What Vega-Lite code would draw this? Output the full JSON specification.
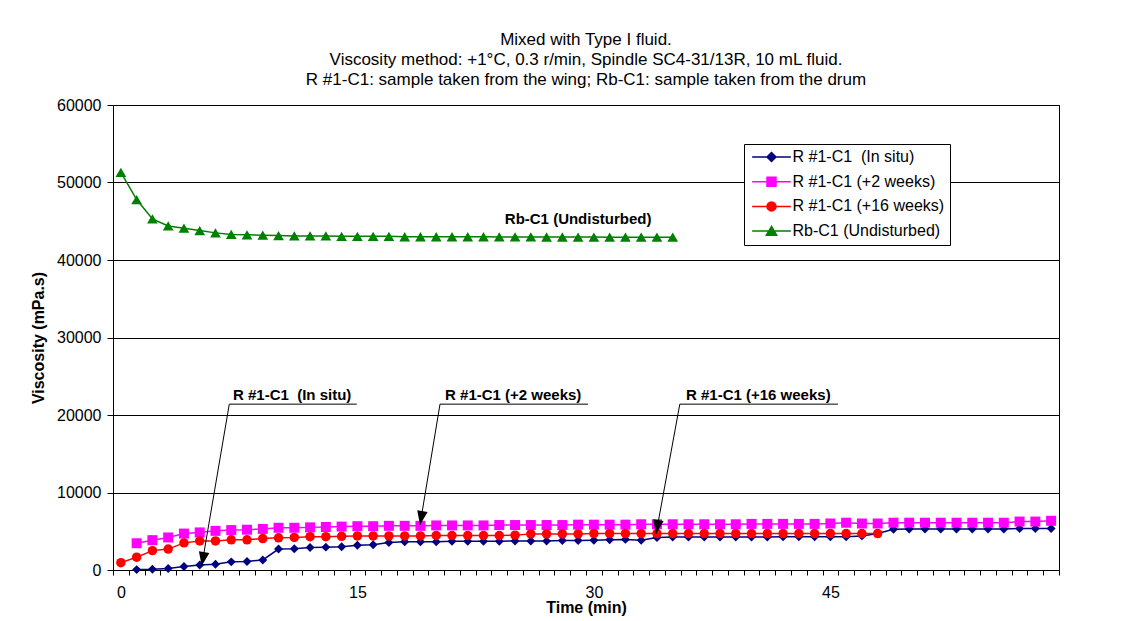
{
  "$schema": "https://vega.github.io/schema/vega-lite/v6.json",
  "width": 946,
  "height": 465,
  "autosize": {"type": "none"},
  "padding": {"left": 113, "top": 105, "right": 77, "bottom": 51},
  "background": "white",
  "title": {
    "text": ["Mixed with Type I fluid.", "Viscosity method: +1°C, 0.3 r/min, Spindle SC4-31/13R, 10 mL fluid.", "R #1-C1: sample taken from the wing; Rb-C1: sample taken from the drum"],
    "fontSize": 17, "fontWeight": "normal", "lineHeight": 20, "frame": "group", "anchor": "middle", "offset": 8, "color": "black"
  },
  "config": {
    "font": "Liberation Sans",
    "view": {"stroke": "black", "strokeWidth": 1}
  },
  "datasets": {
    "series": [
      {"s": "R #1-C1\u00a0 (In situ)", "t": 1, "v": 50}, {"s": "R #1-C1\u00a0 (In situ)", "t": 2, "v": 100}, {"s": "R #1-C1\u00a0 (In situ)", "t": 3, "v": 200}, {"s": "R #1-C1\u00a0 (In situ)", "t": 4, "v": 450}, {"s": "R #1-C1\u00a0 (In situ)", "t": 5, "v": 650}, {"s": "R #1-C1\u00a0 (In situ)", "t": 6, "v": 750}, {"s": "R #1-C1\u00a0 (In situ)", "t": 7, "v": 1050}, {"s": "R #1-C1\u00a0 (In situ)", "t": 8, "v": 1100}, {"s": "R #1-C1\u00a0 (In situ)", "t": 9, "v": 1300}, {"s": "R #1-C1\u00a0 (In situ)", "t": 10, "v": 2700},
      {"s": "R #1-C1\u00a0 (In situ)", "t": 11, "v": 2750}, {"s": "R #1-C1\u00a0 (In situ)", "t": 12, "v": 2900}, {"s": "R #1-C1\u00a0 (In situ)", "t": 13, "v": 2950}, {"s": "R #1-C1\u00a0 (In situ)", "t": 14, "v": 3000}, {"s": "R #1-C1\u00a0 (In situ)", "t": 15, "v": 3200}, {"s": "R #1-C1\u00a0 (In situ)", "t": 16, "v": 3250}, {"s": "R #1-C1\u00a0 (In situ)", "t": 17, "v": 3550}, {"s": "R #1-C1\u00a0 (In situ)", "t": 18, "v": 3650}, {"s": "R #1-C1\u00a0 (In situ)", "t": 19, "v": 3650}, {"s": "R #1-C1\u00a0 (In situ)", "t": 20, "v": 3650},
      {"s": "R #1-C1\u00a0 (In situ)", "t": 21, "v": 3700}, {"s": "R #1-C1\u00a0 (In situ)", "t": 22, "v": 3700}, {"s": "R #1-C1\u00a0 (In situ)", "t": 23, "v": 3700}, {"s": "R #1-C1\u00a0 (In situ)", "t": 24, "v": 3700}, {"s": "R #1-C1\u00a0 (In situ)", "t": 25, "v": 3750}, {"s": "R #1-C1\u00a0 (In situ)", "t": 26, "v": 3750}, {"s": "R #1-C1\u00a0 (In situ)", "t": 27, "v": 3750}, {"s": "R #1-C1\u00a0 (In situ)", "t": 28, "v": 3800}, {"s": "R #1-C1\u00a0 (In situ)", "t": 29, "v": 3800}, {"s": "R #1-C1\u00a0 (In situ)", "t": 30, "v": 3850},
      {"s": "R #1-C1\u00a0 (In situ)", "t": 31, "v": 3900}, {"s": "R #1-C1\u00a0 (In situ)", "t": 32, "v": 3950}, {"s": "R #1-C1\u00a0 (In situ)", "t": 33, "v": 3850}, {"s": "R #1-C1\u00a0 (In situ)", "t": 34, "v": 4200}, {"s": "R #1-C1\u00a0 (In situ)", "t": 35, "v": 4250}, {"s": "R #1-C1\u00a0 (In situ)", "t": 36, "v": 4250}, {"s": "R #1-C1\u00a0 (In situ)", "t": 37, "v": 4250}, {"s": "R #1-C1\u00a0 (In situ)", "t": 38, "v": 4250}, {"s": "R #1-C1\u00a0 (In situ)", "t": 39, "v": 4250}, {"s": "R #1-C1\u00a0 (In situ)", "t": 40, "v": 4250},
      {"s": "R #1-C1\u00a0 (In situ)", "t": 41, "v": 4250}, {"s": "R #1-C1\u00a0 (In situ)", "t": 42, "v": 4300}, {"s": "R #1-C1\u00a0 (In situ)", "t": 43, "v": 4300}, {"s": "R #1-C1\u00a0 (In situ)", "t": 44, "v": 4300}, {"s": "R #1-C1\u00a0 (In situ)", "t": 45, "v": 4300}, {"s": "R #1-C1\u00a0 (In situ)", "t": 46, "v": 4300}, {"s": "R #1-C1\u00a0 (In situ)", "t": 47, "v": 4400}, {"s": "R #1-C1\u00a0 (In situ)", "t": 48, "v": 4700}, {"s": "R #1-C1\u00a0 (In situ)", "t": 49, "v": 5250}, {"s": "R #1-C1\u00a0 (In situ)", "t": 50, "v": 5300},
      {"s": "R #1-C1\u00a0 (In situ)", "t": 51, "v": 5300}, {"s": "R #1-C1\u00a0 (In situ)", "t": 52, "v": 5300}, {"s": "R #1-C1\u00a0 (In situ)", "t": 53, "v": 5300}, {"s": "R #1-C1\u00a0 (In situ)", "t": 54, "v": 5300}, {"s": "R #1-C1\u00a0 (In situ)", "t": 55, "v": 5300}, {"s": "R #1-C1\u00a0 (In situ)", "t": 56, "v": 5300}, {"s": "R #1-C1\u00a0 (In situ)", "t": 57, "v": 5350}, {"s": "R #1-C1\u00a0 (In situ)", "t": 58, "v": 5350}, {"s": "R #1-C1\u00a0 (In situ)", "t": 59, "v": 5350},

      {"s": "R #1-C1 (+2 weeks)", "t": 1, "v": 3450}, {"s": "R #1-C1 (+2 weeks)", "t": 2, "v": 3850}, {"s": "R #1-C1 (+2 weeks)", "t": 3, "v": 4200}, {"s": "R #1-C1 (+2 weeks)", "t": 4, "v": 4700}, {"s": "R #1-C1 (+2 weeks)", "t": 5, "v": 4850}, {"s": "R #1-C1 (+2 weeks)", "t": 6, "v": 5050}, {"s": "R #1-C1 (+2 weeks)", "t": 7, "v": 5150}, {"s": "R #1-C1 (+2 weeks)", "t": 8, "v": 5200}, {"s": "R #1-C1 (+2 weeks)", "t": 9, "v": 5300}, {"s": "R #1-C1 (+2 weeks)", "t": 10, "v": 5450},
      {"s": "R #1-C1 (+2 weeks)", "t": 11, "v": 5450}, {"s": "R #1-C1 (+2 weeks)", "t": 12, "v": 5500}, {"s": "R #1-C1 (+2 weeks)", "t": 13, "v": 5550}, {"s": "R #1-C1 (+2 weeks)", "t": 14, "v": 5600}, {"s": "R #1-C1 (+2 weeks)", "t": 15, "v": 5650}, {"s": "R #1-C1 (+2 weeks)", "t": 16, "v": 5650}, {"s": "R #1-C1 (+2 weeks)", "t": 17, "v": 5700}, {"s": "R #1-C1 (+2 weeks)", "t": 18, "v": 5700}, {"s": "R #1-C1 (+2 weeks)", "t": 19, "v": 5700}, {"s": "R #1-C1 (+2 weeks)", "t": 20, "v": 5750},
      {"s": "R #1-C1 (+2 weeks)", "t": 21, "v": 5750}, {"s": "R #1-C1 (+2 weeks)", "t": 22, "v": 5750}, {"s": "R #1-C1 (+2 weeks)", "t": 23, "v": 5750}, {"s": "R #1-C1 (+2 weeks)", "t": 24, "v": 5800}, {"s": "R #1-C1 (+2 weeks)", "t": 25, "v": 5800}, {"s": "R #1-C1 (+2 weeks)", "t": 26, "v": 5800}, {"s": "R #1-C1 (+2 weeks)", "t": 27, "v": 5800}, {"s": "R #1-C1 (+2 weeks)", "t": 28, "v": 5800}, {"s": "R #1-C1 (+2 weeks)", "t": 29, "v": 5850}, {"s": "R #1-C1 (+2 weeks)", "t": 30, "v": 5850},
      {"s": "R #1-C1 (+2 weeks)", "t": 31, "v": 5850}, {"s": "R #1-C1 (+2 weeks)", "t": 32, "v": 5850}, {"s": "R #1-C1 (+2 weeks)", "t": 33, "v": 5900}, {"s": "R #1-C1 (+2 weeks)", "t": 34, "v": 5900}, {"s": "R #1-C1 (+2 weeks)", "t": 35, "v": 5900}, {"s": "R #1-C1 (+2 weeks)", "t": 36, "v": 5900}, {"s": "R #1-C1 (+2 weeks)", "t": 37, "v": 5900}, {"s": "R #1-C1 (+2 weeks)", "t": 38, "v": 5900}, {"s": "R #1-C1 (+2 weeks)", "t": 39, "v": 5900}, {"s": "R #1-C1 (+2 weeks)", "t": 40, "v": 5950},
      {"s": "R #1-C1 (+2 weeks)", "t": 41, "v": 5950}, {"s": "R #1-C1 (+2 weeks)", "t": 42, "v": 5950}, {"s": "R #1-C1 (+2 weeks)", "t": 43, "v": 5950}, {"s": "R #1-C1 (+2 weeks)", "t": 44, "v": 5950}, {"s": "R #1-C1 (+2 weeks)", "t": 45, "v": 6000}, {"s": "R #1-C1 (+2 weeks)", "t": 46, "v": 6100}, {"s": "R #1-C1 (+2 weeks)", "t": 47, "v": 6000}, {"s": "R #1-C1 (+2 weeks)", "t": 48, "v": 6000}, {"s": "R #1-C1 (+2 weeks)", "t": 49, "v": 6100}, {"s": "R #1-C1 (+2 weeks)", "t": 50, "v": 6100},
      {"s": "R #1-C1 (+2 weeks)", "t": 51, "v": 6100}, {"s": "R #1-C1 (+2 weeks)", "t": 52, "v": 6100}, {"s": "R #1-C1 (+2 weeks)", "t": 53, "v": 6100}, {"s": "R #1-C1 (+2 weeks)", "t": 54, "v": 6100}, {"s": "R #1-C1 (+2 weeks)", "t": 55, "v": 6100}, {"s": "R #1-C1 (+2 weeks)", "t": 56, "v": 6100}, {"s": "R #1-C1 (+2 weeks)", "t": 57, "v": 6250}, {"s": "R #1-C1 (+2 weeks)", "t": 58, "v": 6250}, {"s": "R #1-C1 (+2 weeks)", "t": 59, "v": 6350},

      {"s": "R #1-C1 (+16 weeks)", "t": 0, "v": 950}, {"s": "R #1-C1 (+16 weeks)", "t": 1, "v": 1650}, {"s": "R #1-C1 (+16 weeks)", "t": 2, "v": 2500}, {"s": "R #1-C1 (+16 weeks)", "t": 3, "v": 2700}, {"s": "R #1-C1 (+16 weeks)", "t": 4, "v": 3500}, {"s": "R #1-C1 (+16 weeks)", "t": 5, "v": 3750}, {"s": "R #1-C1 (+16 weeks)", "t": 6, "v": 3750}, {"s": "R #1-C1 (+16 weeks)", "t": 7, "v": 3900}, {"s": "R #1-C1 (+16 weeks)", "t": 8, "v": 3900}, {"s": "R #1-C1 (+16 weeks)", "t": 9, "v": 4050},
      {"s": "R #1-C1 (+16 weeks)", "t": 10, "v": 4150}, {"s": "R #1-C1 (+16 weeks)", "t": 11, "v": 4200}, {"s": "R #1-C1 (+16 weeks)", "t": 12, "v": 4300}, {"s": "R #1-C1 (+16 weeks)", "t": 13, "v": 4300}, {"s": "R #1-C1 (+16 weeks)", "t": 14, "v": 4350}, {"s": "R #1-C1 (+16 weeks)", "t": 15, "v": 4400}, {"s": "R #1-C1 (+16 weeks)", "t": 16, "v": 4400}, {"s": "R #1-C1 (+16 weeks)", "t": 17, "v": 4400}, {"s": "R #1-C1 (+16 weeks)", "t": 18, "v": 4400}, {"s": "R #1-C1 (+16 weeks)", "t": 19, "v": 4400},
      {"s": "R #1-C1 (+16 weeks)", "t": 20, "v": 4450}, {"s": "R #1-C1 (+16 weeks)", "t": 21, "v": 4450}, {"s": "R #1-C1 (+16 weeks)", "t": 22, "v": 4450}, {"s": "R #1-C1 (+16 weeks)", "t": 23, "v": 4450}, {"s": "R #1-C1 (+16 weeks)", "t": 24, "v": 4450}, {"s": "R #1-C1 (+16 weeks)", "t": 25, "v": 4500}, {"s": "R #1-C1 (+16 weeks)", "t": 26, "v": 4650}, {"s": "R #1-C1 (+16 weeks)", "t": 27, "v": 4650}, {"s": "R #1-C1 (+16 weeks)", "t": 28, "v": 4650}, {"s": "R #1-C1 (+16 weeks)", "t": 29, "v": 4650},
      {"s": "R #1-C1 (+16 weeks)", "t": 30, "v": 4700}, {"s": "R #1-C1 (+16 weeks)", "t": 31, "v": 4700}, {"s": "R #1-C1 (+16 weeks)", "t": 32, "v": 4700}, {"s": "R #1-C1 (+16 weeks)", "t": 33, "v": 4700}, {"s": "R #1-C1 (+16 weeks)", "t": 34, "v": 4700}, {"s": "R #1-C1 (+16 weeks)", "t": 35, "v": 4700}, {"s": "R #1-C1 (+16 weeks)", "t": 36, "v": 4700}, {"s": "R #1-C1 (+16 weeks)", "t": 37, "v": 4700}, {"s": "R #1-C1 (+16 weeks)", "t": 38, "v": 4700}, {"s": "R #1-C1 (+16 weeks)", "t": 39, "v": 4700},
      {"s": "R #1-C1 (+16 weeks)", "t": 40, "v": 4700}, {"s": "R #1-C1 (+16 weeks)", "t": 41, "v": 4700}, {"s": "R #1-C1 (+16 weeks)", "t": 42, "v": 4700}, {"s": "R #1-C1 (+16 weeks)", "t": 43, "v": 4700}, {"s": "R #1-C1 (+16 weeks)", "t": 44, "v": 4700}, {"s": "R #1-C1 (+16 weeks)", "t": 45, "v": 4700}, {"s": "R #1-C1 (+16 weeks)", "t": 46, "v": 4700}, {"s": "R #1-C1 (+16 weeks)", "t": 47, "v": 4700}, {"s": "R #1-C1 (+16 weeks)", "t": 48, "v": 4700},

      {"s": "Rb-C1 (Undisturbed)", "t": 0, "v": 51300}, {"s": "Rb-C1 (Undisturbed)", "t": 1, "v": 47800}, {"s": "Rb-C1 (Undisturbed)", "t": 2, "v": 45300}, {"s": "Rb-C1 (Undisturbed)", "t": 3, "v": 44400}, {"s": "Rb-C1 (Undisturbed)", "t": 4, "v": 44100}, {"s": "Rb-C1 (Undisturbed)", "t": 5, "v": 43800}, {"s": "Rb-C1 (Undisturbed)", "t": 6, "v": 43500}, {"s": "Rb-C1 (Undisturbed)", "t": 7, "v": 43300}, {"s": "Rb-C1 (Undisturbed)", "t": 8, "v": 43250}, {"s": "Rb-C1 (Undisturbed)", "t": 9, "v": 43200},
      {"s": "Rb-C1 (Undisturbed)", "t": 10, "v": 43150}, {"s": "Rb-C1 (Undisturbed)", "t": 11, "v": 43100}, {"s": "Rb-C1 (Undisturbed)", "t": 12, "v": 43100}, {"s": "Rb-C1 (Undisturbed)", "t": 13, "v": 43100}, {"s": "Rb-C1 (Undisturbed)", "t": 14, "v": 43050}, {"s": "Rb-C1 (Undisturbed)", "t": 15, "v": 43050}, {"s": "Rb-C1 (Undisturbed)", "t": 16, "v": 43050}, {"s": "Rb-C1 (Undisturbed)", "t": 17, "v": 43050}, {"s": "Rb-C1 (Undisturbed)", "t": 18, "v": 43000}, {"s": "Rb-C1 (Undisturbed)", "t": 19, "v": 43000},
      {"s": "Rb-C1 (Undisturbed)", "t": 20, "v": 43000}, {"s": "Rb-C1 (Undisturbed)", "t": 21, "v": 43000}, {"s": "Rb-C1 (Undisturbed)", "t": 22, "v": 43000}, {"s": "Rb-C1 (Undisturbed)", "t": 23, "v": 43000}, {"s": "Rb-C1 (Undisturbed)", "t": 24, "v": 42980}, {"s": "Rb-C1 (Undisturbed)", "t": 25, "v": 42980}, {"s": "Rb-C1 (Undisturbed)", "t": 26, "v": 42980}, {"s": "Rb-C1 (Undisturbed)", "t": 27, "v": 42970}, {"s": "Rb-C1 (Undisturbed)", "t": 28, "v": 42970}, {"s": "Rb-C1 (Undisturbed)", "t": 29, "v": 42960},
      {"s": "Rb-C1 (Undisturbed)", "t": 30, "v": 42960}, {"s": "Rb-C1 (Undisturbed)", "t": 31, "v": 42950}, {"s": "Rb-C1 (Undisturbed)", "t": 32, "v": 42950}, {"s": "Rb-C1 (Undisturbed)", "t": 33, "v": 42950}, {"s": "Rb-C1 (Undisturbed)", "t": 34, "v": 42950}, {"s": "Rb-C1 (Undisturbed)", "t": 35, "v": 42950}
    ],
    "arrows": [
      {"ux1": 6.876, "ux2": 14.96, "uy": 21400, "ax": 5.126, "ay": 516},
      {"ux1": 20.24, "ux2": 29.63, "uy": 21400, "ax": 18.97, "ay": 5806},
      {"ux1": 35.45, "ux2": 45.48, "uy": 21400, "ax": 33.94, "ay": 4645}
    ],
    "labels": [
      {"label": "R #1-C1\u00a0 (In situ)", "tx": 7.11, "ty": 21935},
      {"label": "R #1-C1 (+2 weeks)", "tx": 20.56, "ty": 21935},
      {"label": "R #1-C1 (+16 weeks)", "tx": 35.84, "ty": 21935},
      {"label": "Rb-C1 (Undisturbed)", "tx": 24.35, "ty": 44600}
    ]
  },
  "layer": [
    {
      "data": {"name": "series"},
      "mark": {"type": "line", "strokeWidth": 1.5},
      "encoding": {
        "x": {
          "field": "t", "type": "quantitative",
          "scale": {"domain": [-0.5, 59.5], "nice": false, "zero": false},
          "axis": {
            "values": [-0.5, 0.5, 1.5, 2.5, 3.5, 4.5, 5.5, 6.5, 7.5, 8.5, 9.5, 10.5, 11.5, 12.5, 13.5, 14.5, 15.5, 16.5, 17.5, 18.5, 19.5, 20.5, 21.5, 22.5, 23.5, 24.5, 25.5, 26.5, 27.5, 28.5, 29.5, 30.5, 31.5, 32.5, 33.5, 34.5, 35.5, 36.5, 37.5, 38.5, 39.5, 40.5, 41.5, 42.5, 43.5, 44.5, 45.5, 46.5, 47.5, 48.5, 49.5, 50.5, 51.5, 52.5, 53.5, 54.5, 55.5, 56.5, 57.5, 58.5, 59.5],
            "tickCount": 200,
            "labelExpr": "((datum.value + 0.5) % 15 === 0 && datum.value < 59) ? format(datum.value + 0.5, 'd') : ''",
            "labelOffset": 7.883,
            "labelFlush": false,
            "labelOverlap": false,
            "tickSize": 5, "tickColor": "black", "domainColor": "black",
            "labelFontSize": 16, "labelColor": "black", "labelPadding": 9,
            "grid": false,
            "titleFontSize": 16, "titleFontWeight": "bold", "titleColor": "black", "titlePadding": -1
          },
          "title": "Time (min)"
        },
        "y": {
          "field": "v", "type": "quantitative",
          "scale": {"domain": [0, 60000], "nice": false},
          "axis": {
            "values": [0, 10000, 20000, 30000, 40000, 50000, 60000],
            "format": "d",
            "grid": true, "gridColor": "black", "gridWidth": 1,
            "tickSize": 6, "tickColor": "black", "domainColor": "black",
            "labelFontSize": 16, "labelColor": "black", "labelPadding": 6,
            "titleFontSize": 16, "titleFontWeight": "bold", "titleColor": "black", "titlePadding": 10
          },
          "title": "Viscosity (mPa.s)"
        },
        "color": {
          "field": "s", "type": "nominal",
          "scale": {
            "domain": ["R #1-C1\u00a0 (In situ)", "R #1-C1 (+2 weeks)", "R #1-C1 (+16 weeks)", "Rb-C1 (Undisturbed)"],
            "range": ["#000080", "#FF00FF", "#FF0000", "#008000"]
          },
          "legend": {
            "orient": "none", "legendX": 631, "legendY": 39,
            "title": null,
            "labelFontSize": 16, "labelColor": "black", "labelLimit": 400,
            "symbolSize": 81, "symbolStrokeWidth": 1.5,
            "symbolOffset": 14.5, "labelOffset": 13,
            "rowPadding": 8.7, "padding": 5,
            "strokeColor": "black", "fillColor": "white", "cornerRadius": 0,
            "encode": {
              "symbols": {
                "update": {
                  "shape": {"signal": "indexof(datum.value, 'situ') >= 0 ? 'M-4.3,0H4.3M0,-1L1,0L0,1L-1,0Z' : indexof(datum.value, '+2 ') >= 0 ? 'M-4.3,0H4.3M-1,-1H1V1H-1Z' : indexof(datum.value, '+16') >= 0 ? 'M-4.3,0H4.3M-1,0A1,1 0 1,0 1,0A1,1 0 1,0 -1,0Z' : 'M-4.3,0H4.3M0,-1.05L1.15,0.9L-1.15,0.9Z'"},
                  "stroke": {"signal": "scale('color', datum.value)"},
                  "strokeWidth": {"value": 1.5}
                }
              }
            }
          }
        }
      }
    },
    {
      "data": {"name": "series"},
      "transform": [{"filter": {"field": "s", "equal": "R #1-C1\u00a0 (In situ)"}}],
      "mark": {"type": "point", "shape": "diamond", "size": 80, "filled": true, "opacity": 1},
      "encoding": {
        "x": {"field": "t", "type": "quantitative", "title": "Time (min)"},
        "y": {"field": "v", "type": "quantitative", "title": "Viscosity (mPa.s)"},
        "color": {"field": "s", "type": "nominal"}
      }
    },
    {
      "data": {"name": "series"},
      "transform": [{"filter": {"field": "s", "equal": "R #1-C1 (+2 weeks)"}}],
      "mark": {"type": "point", "shape": "square", "size": 100, "filled": true, "opacity": 1},
      "encoding": {
        "x": {"field": "t", "type": "quantitative", "title": "Time (min)"},
        "y": {"field": "v", "type": "quantitative", "title": "Viscosity (mPa.s)"},
        "color": {"field": "s", "type": "nominal"}
      }
    },
    {
      "data": {"name": "series"},
      "transform": [{"filter": {"field": "s", "equal": "R #1-C1 (+16 weeks)"}}],
      "mark": {"type": "point", "shape": "circle", "size": 90, "filled": true, "opacity": 1},
      "encoding": {
        "x": {"field": "t", "type": "quantitative", "title": "Time (min)"},
        "y": {"field": "v", "type": "quantitative", "title": "Viscosity (mPa.s)"},
        "color": {"field": "s", "type": "nominal"}
      }
    },
    {
      "data": {"name": "series"},
      "transform": [{"filter": {"field": "s", "equal": "Rb-C1 (Undisturbed)"}}],
      "mark": {"type": "point", "shape": "triangle-up", "size": 115, "filled": true, "opacity": 1},
      "encoding": {
        "x": {"field": "t", "type": "quantitative", "title": "Time (min)"},
        "y": {"field": "v", "type": "quantitative", "title": "Viscosity (mPa.s)"},
        "color": {"field": "s", "type": "nominal"}
      }
    },
    {
      "data": {"name": "arrows"},
      "mark": {"type": "rule", "color": "black", "strokeWidth": 1},
      "encoding": {
        "x": {"field": "ux1", "type": "quantitative", "title": "Time (min)"},
        "y": {"field": "uy", "type": "quantitative", "title": "Viscosity (mPa.s)"},
        "x2": {"field": "ax"},
        "y2": {"field": "ay"}
      }
    },
    {
      "data": {"name": "arrows"},
      "mark": {"type": "rule", "color": "black", "strokeWidth": 1},
      "encoding": {
        "x": {"field": "ux1", "type": "quantitative", "title": "Time (min)"},
        "x2": {"field": "ux2"},
        "y": {"field": "uy", "type": "quantitative", "title": "Viscosity (mPa.s)"}
      }
    },
    {
      "data": {"name": "arrows"},
      "mark": {"type": "point", "shape": "M0,0L-0.45,-1.2L0.45,-1.2Z", "size": 550, "angle": 10, "filled": true, "color": "black", "opacity": 1},
      "encoding": {
        "x": {"field": "ax", "type": "quantitative", "title": "Time (min)"},
        "y": {"field": "ay", "type": "quantitative", "title": "Viscosity (mPa.s)"}
      }
    },
    {
      "data": {"name": "labels"},
      "mark": {"type": "text", "align": "left", "baseline": "alphabetic", "fontWeight": "bold", "fontSize": 15, "color": "black"},
      "encoding": {
        "x": {"field": "tx", "type": "quantitative", "title": "Time (min)"},
        "y": {"field": "ty", "type": "quantitative", "title": "Viscosity (mPa.s)"},
        "text": {"field": "label"}
      }
    }
  ]
}
